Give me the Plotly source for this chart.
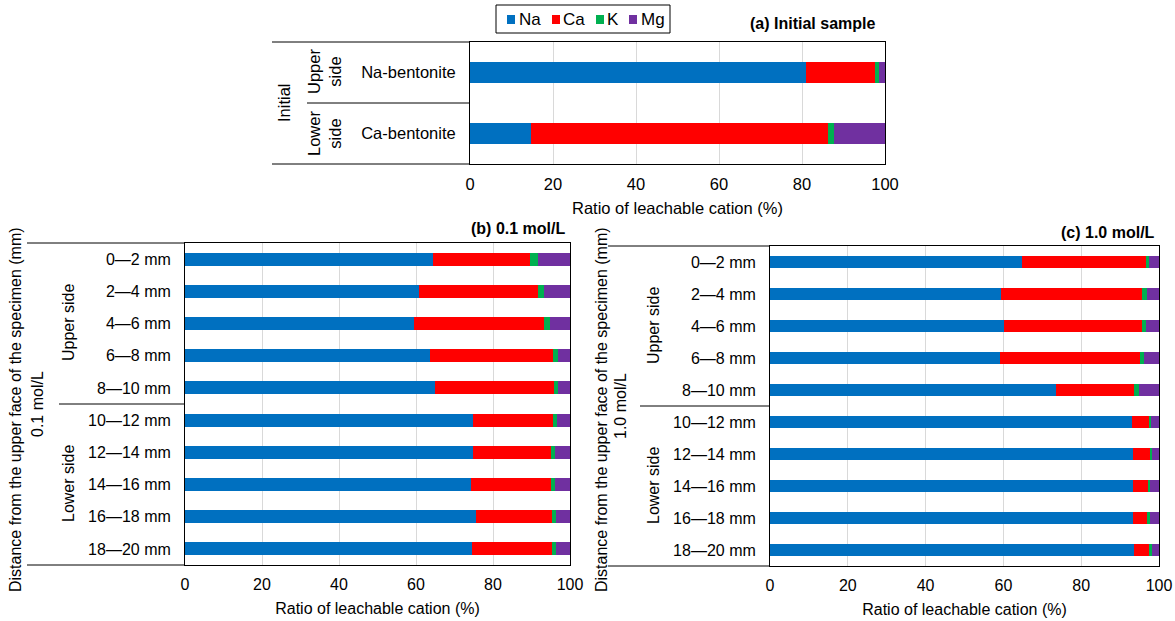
import plotly.graph_objects as go

W, H = 1175, 621

cations = ["Na", "Ca", "K", "Mg"]
colors = ["#0070C0", "#FF0000", "#00B050", "#7030A0"]

# (a) Initial sample
a_labels = ["Na-bentonite", "Ca-bentonite"]
a_na = [80.9, 14.8]
a_ca = [16.8, 71.4]
a_k = [0.8, 1.6]
a_mg = [1.5, 12.2]

# depth labels for (b) and (c)
depth_labels = ["0—2 mm", "2—4 mm", "4—6 mm", "6—8 mm", "8—10 mm",
                "10—12 mm", "12—14 mm", "14—16 mm", "16—18 mm", "18—20 mm"]

# (b) 0.1 mol/L
b_na = [64.5, 60.8, 59.4, 63.6, 65.0, 74.8, 74.8, 74.3, 75.7, 74.5]
b_ca = [25.1, 30.8, 33.9, 32.1, 30.8, 20.8, 20.2, 20.7, 19.6, 20.8]
b_k = [2.0, 1.7, 1.5, 1.3, 1.2, 1.0, 1.2, 1.2, 1.0, 1.1]
b_mg = [8.4, 6.7, 5.2, 3.0, 3.0, 3.4, 3.8, 3.8, 3.7, 3.6]

# (c) 1.0 mol/L
c_na = [64.9, 59.3, 60.1, 59.2, 73.6, 93.1, 93.4, 93.3, 93.2, 93.6]
c_ca = [31.7, 36.3, 35.6, 35.8, 20.0, 4.2, 4.4, 3.9, 3.7, 3.8]
c_k = [0.7, 1.2, 1.0, 1.1, 1.3, 0.7, 0.5, 0.6, 0.7, 0.7]
c_mg = [2.7, 3.2, 3.3, 3.9, 5.1, 2.0, 1.7, 2.2, 2.4, 1.9]

x_ticks = [0, 20, 40, 60, 80, 100]
x_title = "Ratio of leachable cation (%)"

FONT = "Liberation Sans, Arial, sans-serif"


def px(x):
    return x / W


def py(y):
    return 1 - y / H


fig = go.Figure()

panels = [
    ("x", "y", a_labels, [a_na, a_ca, a_k, a_mg], 0.36),
    ("x2", "y2", depth_labels, [b_na, b_ca, b_k, b_mg], 0.40),
    ("x3", "y3", depth_labels, [c_na, c_ca, c_k, c_mg], 0.40),
]

for xa, ya, labels, series, bw in panels:
    for name, col, vals in zip(cations, colors, series):
        fig.add_trace(go.Bar(
            x=vals, y=labels, orientation="h", name=name,
            marker=dict(color=col, line=dict(width=0)),
            width=[bw] * len(labels),
            xaxis=xa, yaxis=ya, showlegend=False, legendgroup=name,
            hoverinfo="skip",
        ))

# panel geometry in pixels: (left, right, top, bottom, font size)
geo = {
    "": (470, 885, 42, 164, 16.5),
    "2": (185, 570, 243, 565, 16),
    "3": (770, 1159, 246, 566, 16),
}

layout = dict(
    width=W, height=H,
    margin=dict(l=0, r=0, t=0, b=0, autoexpand=False),
    paper_bgcolor="white", plot_bgcolor="white",
    barmode="stack",
    showlegend=False,
    font=dict(family=FONT, size=16, color="black"),
)

for k, (l, r, t, b, fs) in geo.items():
    layout["xaxis" + k] = dict(
        domain=[px(l), px(r)], anchor="y" + k, range=[0, 100],
        tickvals=x_ticks, showgrid=True, gridcolor="#d9d9d9", gridwidth=1,
        showline=True, linecolor="black", linewidth=1, mirror=True,
        zeroline=False, ticks="outside", ticklen=5, tickcolor="rgba(0,0,0,0)",
        tickfont=dict(size=fs), automargin=False,
        title=dict(text=x_title, font=dict(size=fs), standoff=10),
    )
    layout["yaxis" + k] = dict(
        domain=[py(b), py(t)], anchor="x" + k, type="category",
        autorange="reversed", showgrid=False,
        showline=True, linecolor="black", linewidth=1, mirror=True,
        ticks="outside", ticklen=10, tickcolor="rgba(0,0,0,0)",
        tickfont=dict(size=fs), zeroline=False, automargin=False,
    )

fig.update_layout(**layout)

shapes = []
line_style = dict(color="black", width=1)


def hline(x0, x1, y, yref="paper", y_is_px=True):
    yy = py(y) if y_is_px else y
    shapes.append(dict(type="line", xref="paper", yref=yref,
                       x0=px(x0), x1=px(x1), y0=yy, y1=yy,
                       line=line_style))


# panel (a) extended frame lines
hline(272, 470, 42)
hline(272, 470, 164)
hline(307, 470, 0.5, yref="y", y_is_px=False)
# panel (b)
hline(27, 185, 243)
hline(27, 185, 565)
hline(59, 185, 4.5, yref="y2", y_is_px=False)
# panel (c)
hline(608, 770, 246)
hline(608, 770, 566)
hline(640, 770, 4.5, yref="y3", y_is_px=False)

# legend box and swatches
shapes.append(dict(type="rect", xref="paper", yref="paper",
                   x0=px(496), x1=px(670), y0=py(33), y1=py(5),
                   line=dict(color="black", width=1), fillcolor="white"))
legend_sw_x = [507, 552, 596, 629]
legend_tx_x = [519, 563, 607, 641]
for sx, col in zip(legend_sw_x, colors):
    shapes.append(dict(type="rect", xref="paper", yref="paper",
                       x0=px(sx), x1=px(sx + 8), y0=py(24), y1=py(15),
                       line=dict(width=0), fillcolor=col))

fig.update_layout(shapes=shapes)

ann = []


def text(x, y, s, angle=0, xanchor="center", size=16, yanchor="middle"):
    ann.append(dict(x=px(x), y=py(y), xref="paper", yref="paper", text=s,
                    showarrow=False, textangle=angle, xanchor=xanchor,
                    yanchor=yanchor, borderpad=0,
                    font=dict(size=size, family=FONT, color="black")))


for tx, name in zip(legend_tx_x, cations):
    text(tx - 1, 19, name, xanchor="left", size=17)

# titles
text(876, 24, "<b>(a) Initial sample</b>", xanchor="right")
text(566, 228, "<b>(b) 0.1 mol/L</b>", xanchor="right")
text(1156, 232, "<b>(c) 1.0 mol/L</b>", xanchor="right")

# panel (a) group labels
text(284, 103, "Initial", angle=-90, size=16.5)
text(325, 72, "Upper<br>side", angle=-90, size=16.5)
text(325, 134, "Lower<br>side", angle=-90, size=16.5)

# panel (b) group labels
text(15, 410, "Distance from the upper face of the specimen (mm)", angle=-90)
text(37, 404, "0.1 mol/L", angle=-90)
text(68, 323, "Upper side", angle=-90)
text(68, 484, "Lower side", angle=-90)

# panel (c) group labels
text(601, 410, "Distance from the upper face of the specimen (mm)", angle=-90)
text(620, 406, "1.0 mol/L", angle=-90)
text(653, 326, "Upper side", angle=-90)
text(653, 486, "Lower side", angle=-90)

fig.update_layout(annotations=ann)

fig.write_html(
    "out.html",
    config={"displayModeBar": False, "staticPlot": True},
    post_script="document.body.style.margin='0px';document.body.style.padding='0px';",
)
